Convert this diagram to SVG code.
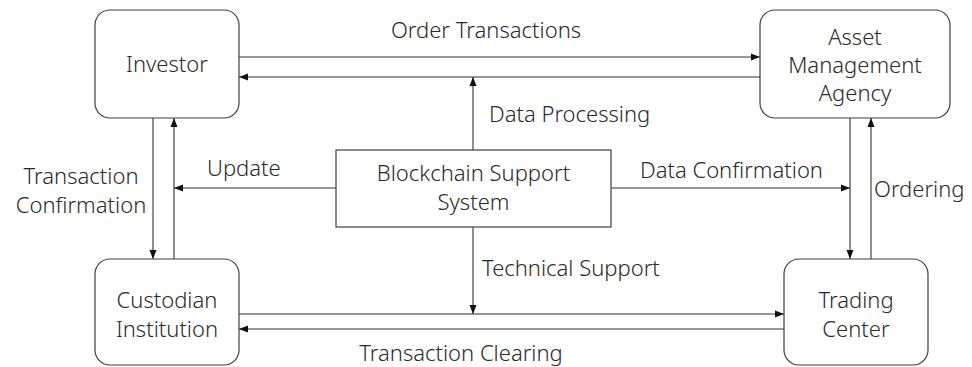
<svg xmlns="http://www.w3.org/2000/svg" width="972" height="367" viewBox="0 0 972 367">
<style>
.box{fill:#fff;stroke:#404040;stroke-width:1.2}
.ln{fill:none;stroke:#333;stroke-width:1.1}
text{font-family:"Noto Sans","Open Sans","Liberation Sans",sans-serif;font-weight:300;font-size:22px;fill:#2a2a2a}
.c{text-anchor:middle}
</style>
<defs>
<marker id="ah" markerUnits="userSpaceOnUse" markerWidth="9" markerHeight="8" refX="9" refY="4" orient="auto">
<path d="M0,0.5 L9,4 L0,7.5 z" fill="#111"/>
</marker>
</defs>
<rect width="972" height="367" fill="#fff"/>
<g id="connectors">
<line class="ln" x1="239" y1="57" x2="760" y2="57" marker-end="url(#ah)"/>
<line class="ln" x1="760" y1="77" x2="239" y2="77" marker-end="url(#ah)"/>
<line class="ln" x1="473" y1="150" x2="473" y2="77" marker-end="url(#ah)"/>
<line class="ln" x1="336" y1="188" x2="174" y2="188" marker-end="url(#ah)"/>
<line class="ln" x1="611" y1="188" x2="850" y2="188" marker-end="url(#ah)"/>
<line class="ln" x1="473" y1="227" x2="473" y2="314" marker-end="url(#ah)"/>
<line class="ln" x1="153" y1="118" x2="153" y2="259" marker-end="url(#ah)"/>
<line class="ln" x1="174" y1="259" x2="174" y2="118" marker-end="url(#ah)"/>
<line class="ln" x1="850" y1="118" x2="850" y2="259" marker-end="url(#ah)"/>
<line class="ln" x1="871" y1="259" x2="871" y2="118" marker-end="url(#ah)"/>
<line class="ln" x1="239" y1="314" x2="784" y2="314" marker-end="url(#ah)"/>
<line class="ln" x1="784" y1="329" x2="239" y2="329" marker-end="url(#ah)"/>
<text class="c" x="486" y="38">Order Transactions</text>
<text x="489" y="122">Data Processing</text>
<text x="207" y="176">Update</text>
<text class="c" x="81" y="184">Transaction</text>
<text class="c" x="81" y="213">Confirmation</text>
<text x="640" y="178">Data Confirmation</text>
<text x="874" y="197">Ordering</text>
<text x="482" y="276">Technical Support</text>
<text class="c" x="461" y="361">Transaction Clearing</text>
</g>
<g id="investor">
<rect class="box" x="95" y="10" width="144" height="108" rx="15"/>
<text class="c" x="167" y="72">Investor</text>
</g>
<g id="asset">
<rect class="box" x="760" y="10" width="190" height="108" rx="15"/>
<text class="c" x="855" y="45">Asset</text>
<text class="c" x="855" y="73">Management</text>
<text class="c" x="855" y="101">Agency</text>
</g>
<g id="blockchain">
<rect class="box" x="336" y="150" width="275" height="77"/>
<text class="c" x="473.5" y="181">Blockchain Support</text>
<text class="c" x="473.5" y="210">System</text>
</g>
<g id="custodian">
<rect class="box" x="95" y="259" width="144" height="106" rx="15"/>
<text class="c" x="167" y="308">Custodian</text>
<text class="c" x="167" y="337">Institution</text>
</g>
<g id="trading">
<rect class="box" x="784" y="259" width="144" height="106" rx="15"/>
<text class="c" x="856" y="308">Trading</text>
<text class="c" x="856" y="337">Center</text>
</g>
</svg>
